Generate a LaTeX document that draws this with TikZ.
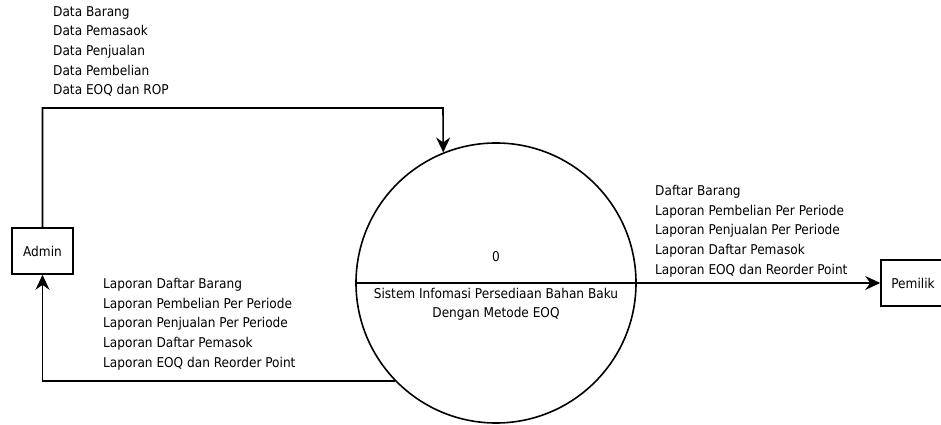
\documentclass[tikz,border=0pt]{standalone}
\usepackage{fontspec}
\setmainfont{DejaVu Sans Condensed}
\usetikzlibrary{arrows.meta}
\tikzset{
  dfdent/.style={draw, line width=1.6pt, minimum height=46pt, inner sep=0pt, font=\fontsize{13.5}{16}\selectfont},
  dfdproc/.style={draw, line width=1.6pt, circle, minimum size=280pt, inner sep=0pt},
  dfdflow/.style={line width=1.6pt, -{Stealth[length=15pt, width=14pt, inset=5pt]}},
  dfdtxt/.style={font=\fontsize{13.5}{19.7}\selectfont, anchor=north west, inner sep=0pt, align=left}
}
\begin{document}
\begin{tikzpicture}[x=1pt, y=1pt]
    \useasboundingbox (0,0) rectangle (941,425);
    % entities and process
    \node[dfdent, minimum width=61pt] (admin) at (42.5,174) {Admin};
    \node[dfdent, minimum width=64pt] (pemilik) at (913,142) {Pemilik};
    \node[dfdproc] (proc) at (496,142) {};
    \draw[line width=1.4pt] (proc.west) -- (proc.east);
    \node[font=\fontsize{13.5}{16}\selectfont] (procnum) at (496,168) {0};
    \node[font=\fontsize{13.5}{19}\selectfont, align=center, anchor=north, inner sep=0pt] (procname) at (496,137)
      {Sistem Infomasi Persediaan Bahan Baku\\ Dengan Metode EOQ};
    % flows
    \coordinate (topbend) at (443,317);
    \draw[dfdflow] (admin.north) |- (topbend) -- (proc.112);
    \draw[dfdflow] (proc.224) -| (admin.south);
    \draw[dfdflow] (proc.east) -- (pemilik.west);
    % flow labels
    \node[dfdtxt] (lblin) at (53,419) {Data Barang\\ Data Pemasaok\\ Data Penjualan\\ Data Pembelian\\ Data EOQ dan ROP};
    \node[dfdtxt] (lbladmin) at (103,147) {Laporan Daftar Barang\\ Laporan Pembelian Per Periode\\ Laporan Penjualan Per Periode\\ Laporan Daftar Pemasok\\ Laporan EOQ dan Reorder Point};
    \node[dfdtxt] (lblpemilik) at (655,240) {Daftar Barang\\ Laporan Pembelian Per Periode\\ Laporan Penjualan Per Periode\\ Laporan Daftar Pemasok\\ Laporan EOQ dan Reorder Point};
\end{tikzpicture}
\end{document}
